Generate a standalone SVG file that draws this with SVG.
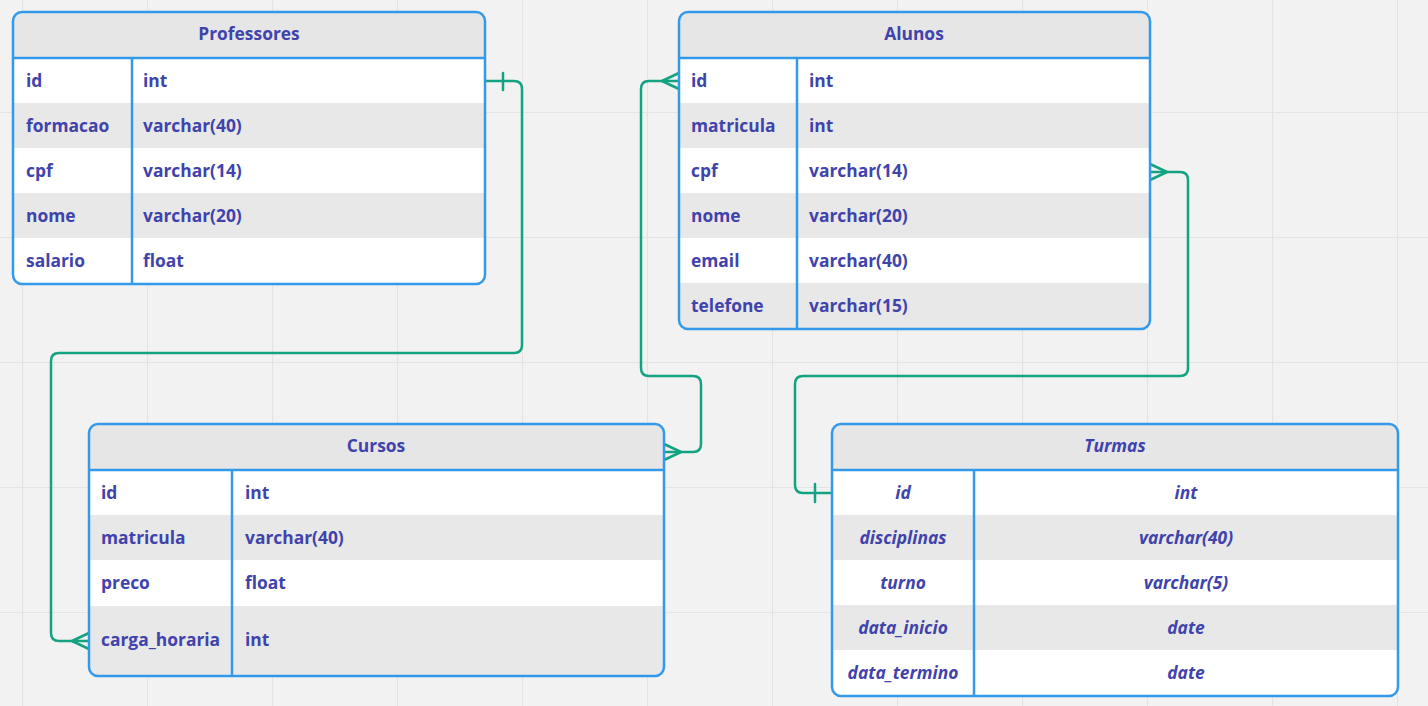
<svg xmlns="http://www.w3.org/2000/svg" width="1428" height="706" viewBox="0 0 1428 706">
<defs>
<pattern id="grid" x="22" y="-13" width="125" height="125" patternUnits="userSpaceOnUse">
<path d="M0.5,0 V125 M0,0.5 H125" fill="none" stroke="#e3e3e3" stroke-width="1.2"/>
</pattern>
<clipPath id="cP"><rect x="13" y="12" width="472" height="272" rx="9"/></clipPath>
<clipPath id="cA"><rect x="679" y="12" width="471" height="317" rx="9"/></clipPath>
<clipPath id="cC"><rect x="89" y="424" width="575" height="252" rx="9"/></clipPath>
<clipPath id="cT"><rect x="832" y="424" width="566" height="272" rx="9"/></clipPath>
</defs>
<style>
.hd{fill:#e6e6e6}
.w{fill:#ffffff}
.g{fill:#e8e8e8}
.bd{fill:none;stroke:#3399e8;stroke-width:2.5}
.ln{stroke:#3399e8;stroke-width:2.5}
text{font-family:"Open Sans","Noto Sans","DejaVu Sans",sans-serif;font-weight:700;font-size:17.4px;fill:#4043ab;dominant-baseline:central}
.c{text-anchor:middle}
.i{font-style:italic}
.cn{fill:none;stroke:#14a382;stroke-width:2.5;stroke-linejoin:round;stroke-linecap:round}
</style>
<rect width="1428" height="706" fill="#f2f2f2"/>
<rect width="1428" height="706" fill="url(#grid)"/>

<g id="connectors">
<path class="cn" d="M485,81 H514 Q522,81 522,89 V345 Q522,353 514,353 H59 Q51,353 51,361 V633 Q51,641 59,641 H89"/>
<path class="cn" d="M503,73 V90"/>
<path class="cn" d="M89,633 L72,641 L89,649"/>
<path class="cn" d="M679,81 H649 Q641,81 641,89 V368 Q641,376 649,376 H693 Q701,376 701,384 V444 Q701,452 693,452 H664"/>
<path class="cn" d="M679,73 L662,81 L679,89"/>
<path class="cn" d="M664,444 L681,452 L664,460"/>
<path class="cn" d="M1150,172 H1180 Q1188,172 1188,180 V368 Q1188,376 1180,376 H803 Q795,376 795,384 V485 Q795,493 803,493 H832"/>
<path class="cn" d="M1150,164 L1167,172 L1150,180"/>
<path class="cn" d="M815,484 V502"/>
</g>

<g id="professores">
<g clip-path="url(#cP)">
<rect class="hd" x="13" y="12" width="472" height="46"/>
<rect class="w" x="13" y="58" width="472" height="45"/>
<rect class="g" x="13" y="103" width="472" height="45"/>
<rect class="w" x="13" y="148" width="472" height="45"/>
<rect class="g" x="13" y="193" width="472" height="45"/>
<rect class="w" x="13" y="238" width="472" height="46"/>
</g>
<line class="ln" x1="13" y1="58" x2="485" y2="58"/>
<line class="ln" x1="132" y1="58" x2="132" y2="284"/>
<rect class="bd" x="13" y="12" width="472" height="272" rx="9"/>
<text class="c" x="249" y="33">Professores</text>
<text x="26" y="79.5">id</text><text x="143" y="79.5">int</text>
<text x="26" y="124.5">formacao</text><text x="143" y="124.5">varchar(40)</text>
<text x="26" y="169.5">cpf</text><text x="143" y="169.5">varchar(14)</text>
<text x="26" y="214.5">nome</text><text x="143" y="214.5">varchar(20)</text>
<text x="26" y="259.5">salario</text><text x="143" y="259.5">float</text>
</g>

<g id="alunos">
<g clip-path="url(#cA)">
<rect class="hd" x="679" y="12" width="471" height="46"/>
<rect class="w" x="679" y="58" width="471" height="45"/>
<rect class="g" x="679" y="103" width="471" height="45"/>
<rect class="w" x="679" y="148" width="471" height="45"/>
<rect class="g" x="679" y="193" width="471" height="45"/>
<rect class="w" x="679" y="238" width="471" height="45"/>
<rect class="g" x="679" y="283" width="471" height="46"/>
</g>
<line class="ln" x1="679" y1="58" x2="1150" y2="58"/>
<line class="ln" x1="797" y1="58" x2="797" y2="329"/>
<rect class="bd" x="679" y="12" width="471" height="317" rx="9"/>
<text class="c" x="914" y="33">Alunos</text>
<text x="691" y="79.5">id</text><text x="809" y="79.5">int</text>
<text x="691" y="124.5">matricula</text><text x="809" y="124.5">int</text>
<text x="691" y="169.5">cpf</text><text x="809" y="169.5">varchar(14)</text>
<text x="691" y="214.5">nome</text><text x="809" y="214.5">varchar(20)</text>
<text x="691" y="259.5">email</text><text x="809" y="259.5">varchar(40)</text>
<text x="691" y="304.5">telefone</text><text x="809" y="304.5">varchar(15)</text>
</g>

<g id="cursos">
<g clip-path="url(#cC)">
<rect class="hd" x="89" y="424" width="575" height="46"/>
<rect class="w" x="89" y="470" width="575" height="45"/>
<rect class="g" x="89" y="515" width="575" height="45"/>
<rect class="w" x="89" y="560" width="575" height="46"/>
<rect class="g" x="89" y="606" width="575" height="70"/>
</g>
<line class="ln" x1="89" y1="470" x2="664" y2="470"/>
<line class="ln" x1="232" y1="470" x2="232" y2="676"/>
<rect class="bd" x="89" y="424" width="575" height="252" rx="9"/>
<text class="c" x="376" y="445">Cursos</text>
<text x="101" y="491.5">id</text><text x="245" y="491.5">int</text>
<text x="101" y="536.5">matricula</text><text x="245" y="536.5">varchar(40)</text>
<text x="101" y="581.5">preco</text><text x="245" y="581.5">float</text>
<text x="101" y="638.5">carga_horaria</text><text x="245" y="638.5">int</text>
</g>

<g id="turmas">
<g clip-path="url(#cT)">
<rect class="hd" x="832" y="424" width="566" height="46"/>
<rect class="w" x="832" y="470" width="566" height="45"/>
<rect class="g" x="832" y="515" width="566" height="45"/>
<rect class="w" x="832" y="560" width="566" height="45"/>
<rect class="g" x="832" y="605" width="566" height="45"/>
<rect class="w" x="832" y="650" width="566" height="46"/>
</g>
<line class="ln" x1="832" y1="470" x2="1398" y2="470"/>
<line class="ln" x1="974" y1="470" x2="974" y2="696"/>
<rect class="bd" x="832" y="424" width="566" height="272" rx="9"/>
<text class="c i" x="1115" y="445">Turmas</text>
<text class="c i" x="903" y="491.5">id</text><text class="c i" x="1186" y="491.5">int</text>
<text class="c i" x="903" y="536.5">disciplinas</text><text class="c i" x="1186" y="536.5">varchar(40)</text>
<text class="c i" x="903" y="581.5">turno</text><text class="c i" x="1186" y="581.5">varchar(5)</text>
<text class="c i" x="903" y="626.5">data_inicio</text><text class="c i" x="1186" y="626.5">date</text>
<text class="c i" x="903" y="671.5">data_termino</text><text class="c i" x="1186" y="671.5">date</text>
</g>
</svg>
